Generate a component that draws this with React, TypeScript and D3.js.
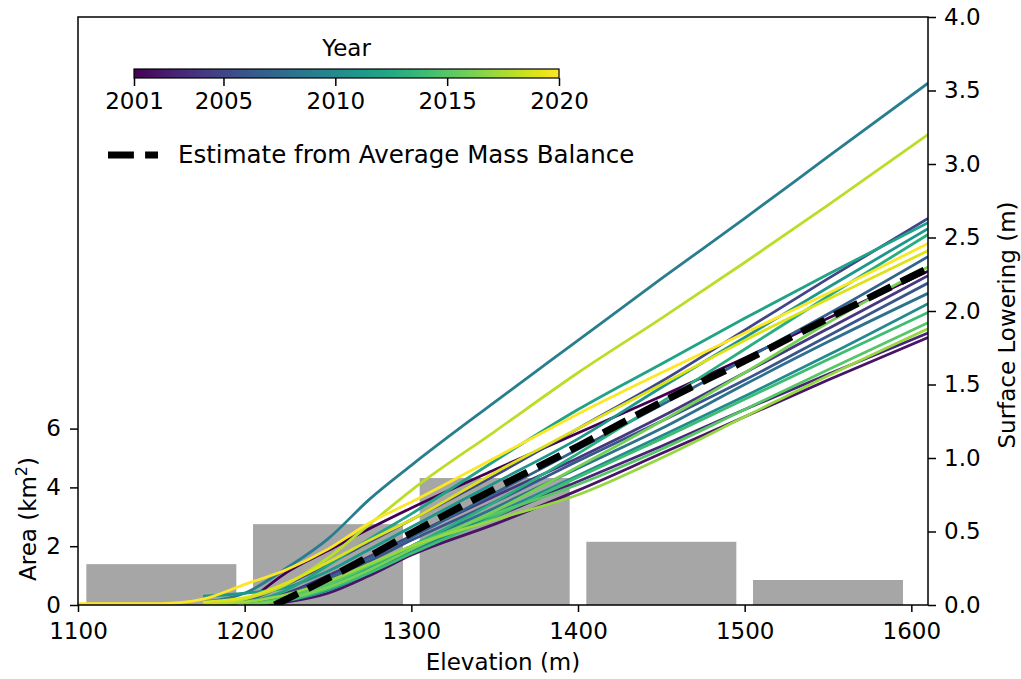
import React, { useEffect, useRef } from "react";
import * as d3 from "d3";

const W = 1021;
const H = 679;
const FONT = "DejaVu Sans, sans-serif";

// area histogram (km2) by 100 m elevation bin
const binStart = [1105, 1205, 1305, 1405, 1505];
const binEnd = [1195, 1295, 1395, 1495, 1595];
const binArea = [1.39, 2.75, 4.32, 2.15, 0.85];

// elevation grid for the surface lowering curves
const elev = [1100, 1150, 1175, 1200, 1225, 1250, 1275, 1300, 1350, 1400, 1450, 1500, 1550, 1610];

const years = [2001, 2002, 2003, 2004, 2005, 2006, 2007, 2008, 2009, 2010, 2011, 2012, 2013, 2014, 2015, 2016, 2017, 2018, 2019, 2020];

const l2001 = [null, null, null, 0.0, 0.22, 0.37, 0.52, 0.66, 0.92, 1.17, 1.42, 1.68, 1.95, 2.27];
const l2002 = [null, null, null, 0.0, 0.02, 0.08, 0.2, 0.34, 0.55, 0.78, 1.03, 1.28, 1.53, 1.82];
const l2003 = [null, null, null, 0.0, 0.04, 0.12, 0.25, 0.38, 0.6, 0.84, 1.08, 1.33, 1.57, 1.85];
const l2004 = [null, null, null, 0.01, 0.08, 0.2, 0.33, 0.47, 0.74, 1.0, 1.28, 1.58, 1.88, 2.24];
const l2005 = [null, null, 0.0, 0.03, 0.14, 0.28, 0.43, 0.58, 0.88, 1.2, 1.52, 1.87, 2.22, 2.63];
const l2006 = [null, null, null, 0.0, 0.06, 0.17, 0.3, 0.44, 0.7, 0.98, 1.25, 1.53, 1.83, 2.19];
const l2007 = [null, null, null, 0.0, 0.07, 0.18, 0.32, 0.46, 0.76, 1.06, 1.36, 1.67, 1.98, 2.37];
const l2008 = [null, null, null, 0.0, 0.05, 0.14, 0.26, 0.4, 0.66, 0.93, 1.2, 1.5, 1.79, 2.12];
const l2009 = [null, null, 0.02, 0.08, 0.25, 0.45, 0.72, 0.95, 1.38, 1.8, 2.22, 2.63, 3.05, 3.55];
const l2010 = [null, null, null, 0.0, 0.03, 0.1, 0.22, 0.36, 0.62, 0.88, 1.15, 1.42, 1.7, 2.05];
const l2011 = [null, null, 0.06, 0.08, 0.12, 0.23, 0.38, 0.53, 0.83, 1.13, 1.48, 1.82, 2.16, 2.56];
const l2012 = [null, null, 0.0, 0.02, 0.1, 0.27, 0.45, 0.62, 0.98, 1.33, 1.64, 1.95, 2.25, 2.6];
const l2013 = [null, null, null, 0.0, 0.04, 0.13, 0.26, 0.4, 0.7, 1.03, 1.38, 1.74, 2.1, 2.52];
const l2014 = [null, null, null, 0.0, 0.03, 0.11, 0.22, 0.35, 0.6, 0.87, 1.13, 1.4, 1.67, 1.99];
const l2015 = [null, null, null, 0.0, 0.05, 0.14, 0.27, 0.4, 0.62, 0.82, 1.06, 1.33, 1.6, 1.92];
const l2016 = [null, null, null, 0.0, 0.04, 0.12, 0.24, 0.38, 0.64, 0.94, 1.25, 1.58, 1.92, 2.3];
const l2017 = [null, null, 0.0, 0.02, 0.07, 0.16, 0.28, 0.4, 0.58, 0.75, 1.0, 1.28, 1.56, 1.88];
const l2018 = [null, null, 0.0, 0.04, 0.14, 0.32, 0.55, 0.78, 1.18, 1.58, 1.95, 2.33, 2.72, 3.2];
const l2019 = [null, null, 0.02, 0.05, 0.15, 0.29, 0.44, 0.58, 0.9, 1.2, 1.5, 1.8, 2.08, 2.41];
const l2020 = [0.01, 0.01, 0.04, 0.14, 0.24, 0.38, 0.56, 0.7, 1.0, 1.3, 1.58, 1.85, 2.12, 2.46];

const lowering = [l2001, l2002, l2003, l2004, l2005, l2006, l2007, l2008, l2009, l2010, l2011, l2012, l2013, l2014, l2015, l2016, l2017, l2018, l2019, l2020];

// estimate from average mass balance
const avgElev = [1218, 1260, 1300, 1350, 1400, 1450, 1500, 1550, 1610];
const avgLowering = [0, 0.24, 0.49, 0.79, 1.08, 1.38, 1.66, 1.95, 2.29];

const xTicks = [1100, 1200, 1300, 1400, 1500, 1600];
const areaTicks = [0, 2, 4, 6];
const lowTicks = [0, 0.5, 1, 1.5, 2, 2.5, 3, 3.5, 4];
const cbTicks = [2001, 2005, 2010, 2015, 2020];

export default function App() {
  const ref = useRef<SVGSVGElement>(null);

  useEffect(() => {
    const margin = { top: 17, right: 93, bottom: 74, left: 78 };
    const svg = d3.select(ref.current).attr("width", W).attr("height", H);
    svg.selectAll("*").remove();

    const x = d3
      .scaleLinear()
      .domain([1100, 1610])
      .range([margin.left, W - margin.right]);
    const yA = d3
      .scaleLinear()
      .domain([0, 20])
      .range([H - margin.bottom, margin.top]);
    const yL = d3
      .scaleLinear()
      .domain([0, 4])
      .range([H - margin.bottom, margin.top]);
    const color = d3
      .scaleSequential(d3.interpolateViridis)
      .domain([2001, 2020]);

    svg.append("rect").attr("width", W).attr("height", H).attr("fill", "#fff");

    const clip = svg.append("defs").append("clipPath").attr("id", "plot-clip");
    clip
      .append("rect")
      .attr("x", margin.left)
      .attr("y", margin.top)
      .attr("width", W - margin.left - margin.right)
      .attr("height", H - margin.top - margin.bottom);

    // bars
    svg
      .selectAll(".bar")
      .data(binArea)
      .join("rect")
      .attr("class", "bar")
      .attr("x", (_, i) => x(binStart[i]))
      .attr("width", (_, i) => x(binEnd[i]) - x(binStart[i]))
      .attr("y", (d) => yA(d))
      .attr("height", (d) => yA(0) - yA(d))
      .attr("fill", "#a6a6a6");

    // lowering curves
    const line = d3
      .line<number | null>()
      .defined((d) => d !== null)
      .x((_, i) => x(elev[i]))
      .y((d) => yL(d as number))
      .curve(d3.curveMonotoneX);

    const g = svg.append("g").attr("clip-path", "url(#plot-clip)");
    g.selectAll(".yr")
      .data(lowering)
      .join("path")
      .attr("class", "yr")
      .attr("d", (d) => line(d))
      .attr("fill", "none")
      .attr("stroke", (_, i) => color(years[i]))
      .attr("stroke-width", 2.8);

    const avgLine = d3
      .line<number>()
      .x((_, i) => x(avgElev[i]))
      .y((d) => yL(d))
      .curve(d3.curveMonotoneX);
    g.append("path")
      .attr("d", avgLine(avgLowering))
      .attr("fill", "none")
      .attr("stroke", "#000")
      .attr("stroke-width", 7)
      .attr("stroke-dasharray", "25.9,11.2");

    // axes
    const styleAxis = (sel) => {
      sel.selectAll("text").attr("font-size", 23).attr("font-family", FONT).attr("fill", "#000");
      sel.selectAll("line").attr("stroke", "#000").attr("stroke-width", 1.5);
      sel.select(".domain").remove();
    };

    svg
      .append("g")
      .attr("transform", `translate(0,${H - margin.bottom})`)
      .call(d3.axisBottom(x).tickValues(xTicks).tickSize(7).tickPadding(11).tickSizeOuter(0).tickFormat(d3.format("d")))
      .call(styleAxis);

    svg
      .append("g")
      .attr("transform", `translate(${margin.left},0)`)
      .call(d3.axisLeft(yA).tickValues(areaTicks).tickSize(8).tickPadding(9).tickSizeOuter(0).tickFormat(d3.format("d")))
      .call(styleAxis);

    svg
      .append("g")
      .attr("transform", `translate(${W - margin.right},0)`)
      .call(d3.axisRight(yL).tickValues(lowTicks).tickSize(8).tickPadding(8).tickSizeOuter(0).tickFormat(d3.format(".1f")))
      .call(styleAxis);

    // frame
    svg
      .append("rect")
      .attr("x", margin.left)
      .attr("y", margin.top)
      .attr("width", W - margin.left - margin.right)
      .attr("height", H - margin.top - margin.bottom)
      .attr("fill", "none")
      .attr("stroke", "#000")
      .attr("stroke-width", 1.5);

    // axis labels
    svg
      .append("text")
      .attr("x", (margin.left + W - margin.right) / 2)
      .attr("y", 670)
      .attr("text-anchor", "middle")
      .attr("font-size", 23)
      .attr("font-family", FONT)
      .text("Elevation (m)");

    const areaLabel = svg
      .append("text")
      .attr("transform", `translate(36, 519) rotate(-90)`)
      .attr("text-anchor", "middle")
      .attr("font-size", 23)
      .attr("font-family", FONT);
    areaLabel.append("tspan").text("Area (km");
    areaLabel.append("tspan").attr("font-size", 16).attr("dy", -9).text("2");
    areaLabel.append("tspan").attr("dy", 9).text(")");

    svg
      .append("text")
      .attr("transform", `translate(1015, 325) rotate(-90)`)
      .attr("text-anchor", "middle")
      .attr("font-size", 23)
      .attr("font-family", FONT)
      .text("Surface Lowering (m)");

    // colorbar
    const cb = d3.scaleLinear().domain([2001, 2020]).range([134, 559]);
    const grad = svg
      .select("defs")
      .append("linearGradient")
      .attr("id", "viridis-grad")
      .attr("x1", "0%")
      .attr("x2", "100%");
    d3.range(0, 1.0001, 0.05).forEach((t) => {
      grad
        .append("stop")
        .attr("offset", `${t * 100}%`)
        .attr("stop-color", d3.interpolateViridis(t));
    });
    svg
      .append("rect")
      .attr("x", cb(2001))
      .attr("y", 69)
      .attr("width", cb(2020) - cb(2001))
      .attr("height", 9)
      .attr("fill", "url(#viridis-grad)")
      .attr("stroke", "#000")
      .attr("stroke-width", 1.2);
    svg
      .append("g")
      .attr("transform", "translate(0,78)")
      .call(d3.axisBottom(cb).tickValues(cbTicks).tickSize(8).tickPadding(7).tickSizeOuter(0).tickFormat(d3.format("d")))
      .call(styleAxis);
    svg
      .append("text")
      .attr("x", cb(2010.5))
      .attr("y", 56)
      .attr("text-anchor", "middle")
      .attr("font-size", 23)
      .attr("font-family", FONT)
      .text("Year");

    // legend
    svg
      .append("line")
      .attr("x1", 108)
      .attr("x2", 158)
      .attr("y1", 155)
      .attr("y2", 155)
      .attr("stroke", "#000")
      .attr("stroke-width", 7)
      .attr("stroke-dasharray", "25.9,11.2");
    svg
      .append("text")
      .attr("x", 178)
      .attr("y", 163)
      .attr("font-size", 24.5)
      .attr("font-family", FONT)
      .text("Estimate from Average Mass Balance");
  }, []);

  return <svg ref={ref} style={{ position: "absolute", left: 0, top: 0 }} />;
}
